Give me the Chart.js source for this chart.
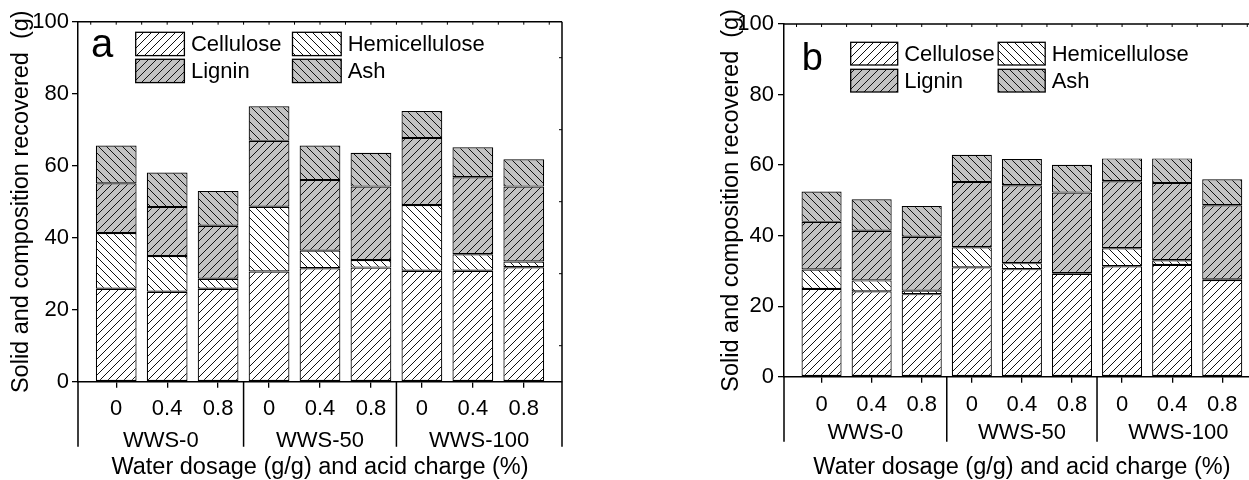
<!DOCTYPE html>
<html><head><meta charset="utf-8">
<script src="https://cdn.jsdelivr.net/npm/chart.js@4/dist/chart.umd.min.js"></script>
<style>
html,body{margin:0;padding:0;background:#fff;overflow:hidden;width:1249px;height:480px;position:relative;}
canvas{position:absolute;top:0;}
</style></head><body>
<canvas id="ca" width="600" height="480" style="left:0px"></canvas>
<canvas id="cb" width="600" height="480" style="left:700px"></canvas>
<script>
// ---- data ----
const acidCharge = ['0', '0.4', '0.8', '0', '0.4', '0.8', '0', '0.4', '0.8'];
const groups = ['WWS-0', 'WWS-50', 'WWS-100'];
const seriesNames = ['Cellulose', 'Hemicellulose', 'Lignin', 'Ash'];
const yTicks = [0, 20, 40, 60, 80, 100];

// panel a
const celluloseA = [25.8, 25.0, 25.8, 30.6, 31.5, 31.7, 30.8, 30.8, 31.8];
const hemicelluloseA = [15.5, 9.9, 2.8, 18.0, 4.9, 2.1, 18.3, 4.6, 1.6];
const ligninA = [13.8, 13.6, 14.7, 18.3, 19.6, 20.4, 18.6, 21.4, 20.8];
const ashA = [10.5, 9.6, 9.7, 9.6, 9.6, 9.4, 7.5, 8.3, 7.6];
// panel b
const celluloseB = [24.9, 24.2, 23.4, 31.0, 30.5, 29.2, 31.3, 31.7, 27.4];
const hemicelluloseB = [5.5, 3.1, 1.0, 5.7, 1.7, 0.2, 5.1, 1.3, 0.2];
const ligninB = [13.5, 14.1, 15.3, 18.5, 22.1, 22.8, 19.0, 21.9, 21.0];
const ashB = [8.6, 8.9, 8.7, 7.7, 7.4, 7.9, 6.5, 7.0, 7.4];

// ---- layout helpers ----
const X_MIN = -0.75, X_MAX = 8.75;
const groupBounds = [X_MIN, 2.5, 5.5, X_MAX];
const groupCenters = groups.map((_, i) => (groupBounds[i] + groupBounds[i + 1]) / 2);

Chart.defaults.font.family = "'Liberation Sans', Arial, sans-serif";
Chart.defaults.color = '#000';

function hatch(ctx, bg, dir) {
  const c = document.createElement('canvas'); c.width = 8; c.height = 8;
  const g = c.getContext('2d');
  g.fillStyle = bg; g.fillRect(0, 0, 8, 8);
  g.strokeStyle = '#111'; g.lineWidth = 1;
  g.beginPath();
  if (dir > 0) {
    g.moveTo(-2, 10); g.lineTo(10, -2);
    g.moveTo(-2, 2); g.lineTo(2, -2);
    g.moveTo(6, 10); g.lineTo(10, 6);
  } else {
    g.moveTo(-2, -2); g.lineTo(10, 10);
    g.moveTo(-2, 6); g.lineTo(2, 10);
    g.moveTo(6, -2); g.lineTo(10, 2);
  }
  g.stroke();
  return ctx.createPattern(c, 'repeat');
}

const framePlugin = {
  id: 'frame',
  afterDatasetsDraw(chart, args, o) {
    const { ctx, chartArea: ca, scales } = chart;
    const xs = scales.x, ys = scales.y;
    ctx.save();
    ctx.strokeStyle = '#000'; ctx.lineWidth = 1.5;
    ctx.beginPath();
    ctx.moveTo(ca.left, ca.top); ctx.lineTo(ca.right, ca.top);
    ctx.moveTo(ca.right, ca.top); ctx.lineTo(ca.right, o.sepBottom);
    ctx.moveTo(ca.left, ca.bottom); ctx.lineTo(ca.left, o.sepBottom);
    for (let i = 1; i < groupBounds.length - 1; i++) {
      const px = xs.getPixelForValue(groupBounds[i]);
      ctx.moveTo(px, ca.bottom); ctx.lineTo(px, o.sepBottom);
    }
    ctx.stroke();
    ctx.lineWidth = 1;
    ctx.beginPath();
    for (let v = -0.5; v <= 8.5; v += 0.5) {
      const px = xs.getPixelForValue(v);
      ctx.moveTo(px, ca.top); ctx.lineTo(px, ca.top + 3);
    }
    for (let v = 10; v < 100; v += 20) {
      const py = ys.getPixelForValue(v);
      ctx.moveTo(ca.right, py); ctx.lineTo(ca.right - 3, py);
    }
    ctx.stroke();
    ctx.restore();
  }
};

const legendPlugin = {
  id: 'hatchLegend',
  afterDraw(chart, args, o) {
    const { ctx, chartArea: ca } = chart;
    const cols = [o.col1, o.col2], rows = [o.row1, o.row2];
    ctx.save();
    chart.data.datasets.forEach((d, i) => {
      const bx = ca.left + cols[i % 2], by = ca.top + rows[Math.floor(i / 2)];
      ctx.fillStyle = d.backgroundColor;
      ctx.fillRect(bx, by, o.boxW, o.boxH);
      ctx.strokeStyle = '#000'; ctx.lineWidth = 1.3;
      ctx.strokeRect(bx, by, o.boxW, o.boxH);
      ctx.fillStyle = '#000';
      ctx.font = "22px 'Liberation Sans', Arial, sans-serif";
      ctx.textBaseline = 'middle'; ctx.textAlign = 'left';
      ctx.fillText(d.label, bx + o.boxW + 6.5, by + o.boxH / 2 + 1);
    });
    ctx.font = o.letterSize + "px 'Liberation Sans', Arial, sans-serif";
    ctx.textBaseline = 'alphabetic';
    ctx.fillText(o.letter, ca.left + o.letterX, ca.top + o.letterY);
    ctx.restore();
  }
};

function makeChart(id, P, cel, hem, lig, ash) {
  const canvas = document.getElementById(id);
  const ctx = canvas.getContext('2d');
  const fills = [hatch(ctx, '#ffffff', 1), hatch(ctx, '#ffffff', -1), hatch(ctx, '#c2c2c2', 1), hatch(ctx, '#c2c2c2', -1)];
  const vals = [cel, hem, lig, ash];
  return new Chart(canvas, {
    type: 'bar',
    plugins: [framePlugin, legendPlugin],
    data: {
      datasets: vals.map((arr, k) => ({
        label: seriesNames[k],
        data: arr.map((v, i) => ({ x: i, y: v })),
        backgroundColor: fills[k],
        borderColor: '#000',
        borderWidth: 1.2,
        borderSkipped: false,
        barPercentage: 0.8,
        categoryPercentage: 1
      }))
    },
    options: {
      responsive: false, animation: false, events: [],
      layout: { padding: { left: P.padL, right: P.padR, top: P.top, bottom: 0 } },
      plugins: {
        legend: { display: false }, tooltip: { enabled: false },
        frame: { sepBottom: P.sepBottom },
        hatchLegend: P.legend
      },
      scales: {
        x: {
          type: 'linear', position: 'bottom', stacked: true, min: X_MIN, max: X_MAX, weight: 0, offset: false,
          afterBuildTicks: s => { s.ticks = acidCharge.map((_, i) => ({ value: i })); },
          afterFit: s => { s.height = P.xH; },
          ticks: { callback: (v, i) => acidCharge[i], font: { size: 22 }, color: '#000', padding: P.xPad, maxRotation: 0, autoSkip: false },
          grid: { offset: false, drawOnChartArea: false, drawTicks: true, tickLength: 6, color: '#000', lineWidth: 1.3 },
          border: { display: true, color: '#000', width: 1.5 }
        },
        g: {
          type: 'linear', position: 'bottom', min: X_MIN, max: X_MAX, weight: 1, offset: false,
          afterBuildTicks: s => { s.ticks = groupCenters.map(v => ({ value: v })); },
          afterFit: s => { s.height = 480 - P.bottom - P.xH; },
          ticks: { callback: (v, i) => groups[i], font: { size: 22 }, color: '#000', padding: P.gPad, maxRotation: 0, autoSkip: false },
          grid: { display: false, drawTicks: false, offset: false },
          border: { display: false },
          title: { display: true, text: 'Water dosage (g/g) and acid charge (%)', font: { size: 23.5 }, color: '#000', padding: { top: 0, bottom: -2.1 } }
        },
        y: {
          type: 'linear', stacked: true, min: 0, max: 100,
          afterBuildTicks: s => { s.ticks = yTicks.map(v => ({ value: v })); },
          afterFit: s => { s.width = P.yW; },
          ticks: { font: { size: 22 }, color: '#000', padding: P.yPad },
          grid: { drawOnChartArea: false, drawTicks: true, tickLength: 6, color: '#000', lineWidth: 1.3 },
          border: { display: true, color: '#000', width: 1.5 },
          title: { display: true, text: 'Solid and composition recovered  (g)', font: { size: 23.5 }, color: '#000', padding: 0 }
        }
      }
    }
  });
}

makeChart('ca', {
  padL: 7.6, yW: 70.4, padR: 38, top: 21.7, bottom: 381.7, xH: 44, xPad: 8.1, gPad: 2.1, yPad: 3, sepBottom: 446.7,
  legend: { col1: 57.7, col2: 214.5, row1: 10.6, row2: 37.6, boxW: 48.7, boxH: 23.3, letter: 'a', letterX: 13, letterY: 35, letterSize: 40 }
}, celluloseA, hemicelluloseA, ligninA, ashA);

makeChart('cb', {
  padL: 17.6, yW: 66.4, padR: 40.2, top: 24, bottom: 376.7, xH: 40, xPad: 9.1, gPad: 3.4, yPad: 4, sepBottom: 441.7,
  legend: { col1: 66.7, col2: 214.2, row1: 18.3, row2: 45.3, boxW: 47, boxH: 22.7, letter: 'b', letterX: 17.7, letterY: 46, letterSize: 38 }
}, celluloseB, hemicelluloseB, ligninB, ashB);
</script>
</body></html>
